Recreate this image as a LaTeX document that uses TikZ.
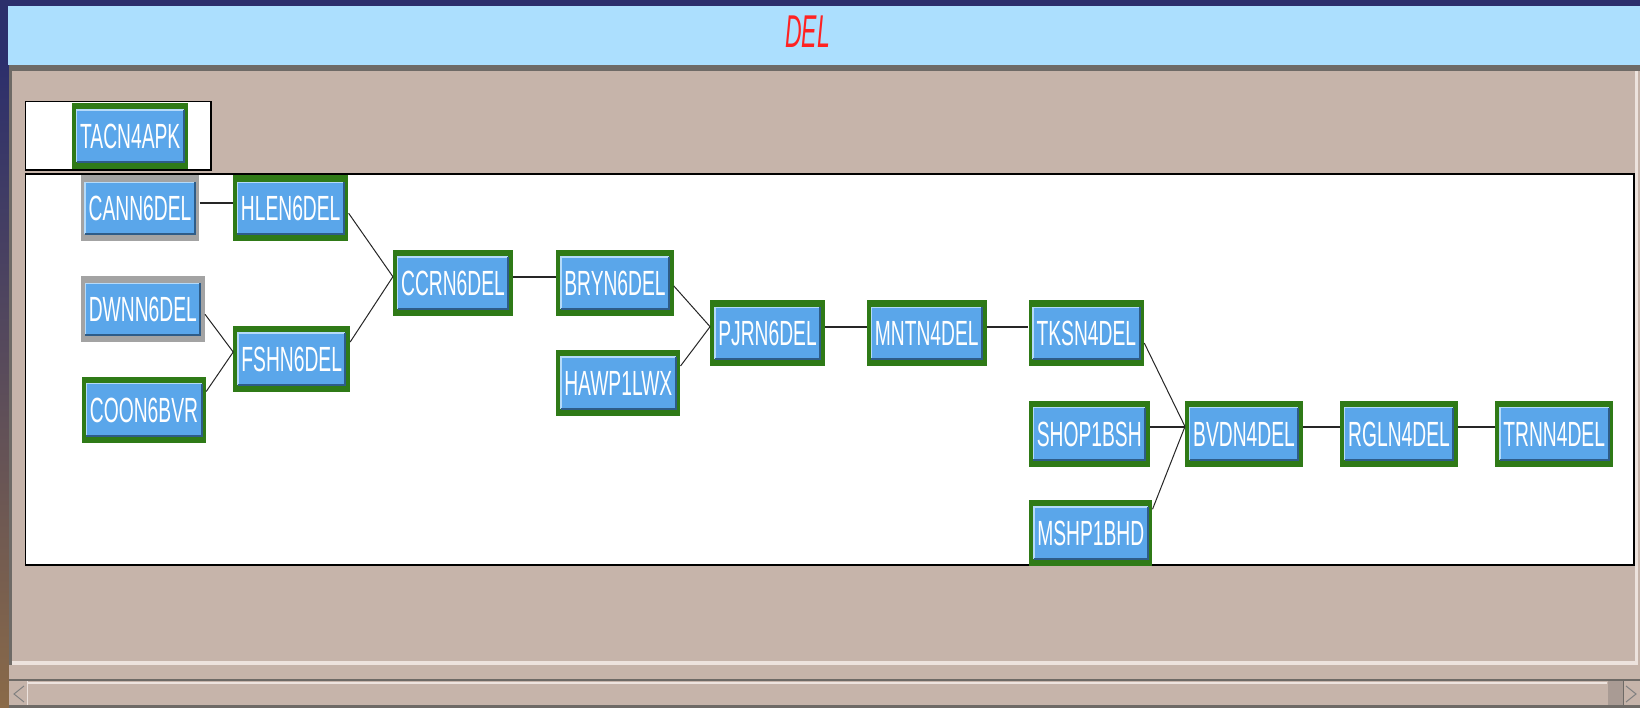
\documentclass[tikz,border=0pt]{standalone}
\usepackage{fontspec}
\setmainfont{Liberation Sans}
\usetikzlibrary{positioning}

\definecolor{navy}{HTML}{2C2F6C}
\definecolor{desk}{HTML}{8A6A48}
\definecolor{titlebar}{HTML}{ACDFFE}
\definecolor{panel}{HTML}{C6B4AA}
\definecolor{panelrim}{HTML}{6E6A66}
\definecolor{panellight}{HTML}{EDE3DE}
\definecolor{thumb}{HTML}{A99B94}
\definecolor{okgreen}{HTML}{2F7A17}
\definecolor{offgray}{HTML}{A3A3A3}
\definecolor{btnblue}{HTML}{5AA6EA}
\definecolor{btnlight}{HTML}{B4DAFA}
\definecolor{btndark}{HTML}{2E5C88}
\definecolor{deltitle}{HTML}{FF2222}

\newcommand{\sta}[1]{\scalebox{0.55}[1]{#1}}

\tikzset{
  site/.style={rectangle, fill=okgreen, text=white, minimum height=66pt,
    inner xsep=8pt, inner ysep=0pt, text height=25pt, text depth=0pt,
    font=\fontsize{35}{35}\selectfont,
    path picture={
      \coordinate (pa) at ([shift={(4.5pt,-7pt)}]path picture bounding box.north west);
      \coordinate (pb) at ([shift={(-4.5pt,7pt)}]path picture bounding box.south east);
      \fill[btnblue] (pa) rectangle (pb);
      \draw[btnlight, line width=1.5pt] (pa |- pb) -- (pa) -- (pb |- pa);
      \draw[btndark, line width=2pt] (pa |- pb) -- (pb) -- (pb |- pa);
    }},
  site off/.style={site, fill=offgray},
  link/.style={draw=black!85, line width=2pt},
  slant/.style={draw=black!85, line width=1pt},
  pane/.style={fill=white, draw=black, line width=1.5pt}
}

\begin{document}
\begin{tikzpicture}[x=1pt, y=-1pt]
  \useasboundingbox (0,0) rectangle (1640,708);
  % window frame
  \fill[navy] (0,0) rectangle (1640,708);
  \shade[top color=navy, bottom color=desk] (0,60) rectangle (9,708);
  \fill[titlebar] (8,6) rectangle (1640,65);
  \fill[panelrim] (9,65) rectangle (1640,71);
  \fill[panel] (9,71) rectangle (1640,708);
  \fill[panelrim] (9,65) rectangle (12,665);
  \fill[panellight] (12,661) rectangle (1638,665);
  \fill[panellight] (1635,71) rectangle (1638,665);
  \node[font=\fontsize{46}{46}\selectfont\itshape, text=deltitle, inner sep=0pt]
    (title) at (807.7,31.7) {\scalebox{0.5}[1]{DEL}};
  % scroll bar
  \fill[panelrim] (9,679) rectangle (1640,681);
  \fill[panellight] (27,682) rectangle (1607,684);
  \fill[panelrim] (9,705) rectangle (1640,708);
  \fill[thumb] (1608,681) rectangle (1623,705);
  \draw[panellight, line width=1pt] (27,681) -- (27,705);
  \draw[panelrim, line width=1pt] (1623,681) -- (1623,705);
  \draw[gray, line width=1pt] (24,686) -- (14,694) -- (24,702);
  \draw[gray, line width=1pt] (1626,686) -- (1636,694) -- (1626,702);
  % panes
  \draw[pane] (25.7,101.7) rectangle (211,170);
  \draw[pane] (25.7,174) rectangle (1634,565);

  \node[site] (s_tacn) at (130.2,135.8) {\sta{TACN4APK}};

  \node[site off] (s_cann) at (140,208.3) {\sta{CANN6DEL}};
  \node[site] (s_hlen) at (290.7,208.3) {\sta{HLEN6DEL}};
  \node[site off] (s_dwnn) at (142.8,309.3) {\sta{DWNN6DEL}};
  \node[site] (s_fshn) at (291.7,359) {\sta{FSHN6DEL}};
  \node[site] (s_coon) at (144,409.5) {\sta{COON6BVR}};
  \node[site] (s_ccrn) at (453,283) {\sta{CCRN6DEL}};
  \node[site] (s_bryn) at (615,283) {\sta{BRYN6DEL}};
  \node[site] (s_hawp) at (618.3,383) {\sta{HAWP1LWX}};
  \node[site] (s_pjrn) at (767.5,333.3) {\sta{PJRN6DEL}};
  \node[site] (s_mntn) at (926.7,333.3) {\sta{MNTN4DEL}};
  \node[site] (s_tksn) at (1086.3,333.3) {\sta{TKSN4DEL}};
  \node[site] (s_shop) at (1089.3,433.5) {\sta{SHOP1BSH}};
  \node[site] (s_mshp) at (1090.8,533) {\sta{MSHP1BHD}};
  \node[site] (s_bvdn) at (1244,433.5) {\sta{BVDN4DEL}};
  \node[site] (s_rgln) at (1399,433.5) {\sta{RGLN4DEL}};
  \node[site] (s_trnn) at (1554.2,433.5) {\sta{TRNN4DEL}};

  \path[link]
    ([yshift=5.6pt]s_cann.east) edge ([yshift=5.6pt]s_hlen.west)
    ([yshift=6.3pt]s_ccrn.east) edge ([yshift=6.3pt]s_bryn.west)
    ([yshift=6.6pt]s_pjrn.east) edge ([yshift=6.6pt]s_mntn.west)
    ([yshift=6.6pt]s_mntn.east) edge ([yshift=6.6pt]s_tksn.west)
    ([yshift=6.6pt]s_shop.east) edge ([yshift=6.6pt]s_bvdn.west)
    ([yshift=6.6pt]s_bvdn.east) edge ([yshift=6.6pt]s_rgln.west)
    ([yshift=6.6pt]s_rgln.east) edge ([yshift=6.6pt]s_trnn.west);
  \path[slant]
    ([yshift=-5pt]s_hlen.east) edge ([yshift=6.3pt]s_ccrn.west)
    ([yshift=17pt]s_fshn.east) edge ([yshift=6.3pt]s_ccrn.west)
    ([yshift=-5pt]s_dwnn.east) edge ([yshift=7pt]s_fshn.west)
    ([yshift=18pt]s_coon.east) edge ([yshift=7pt]s_fshn.west)
    ([yshift=-3pt]s_bryn.east) edge ([yshift=6.6pt]s_pjrn.west)
    ([yshift=17pt]s_hawp.east) edge ([yshift=6.6pt]s_pjrn.west)
    ([yshift=-9.7pt]s_tksn.east) edge ([yshift=7pt]s_bvdn.west)
    ([yshift=23.7pt]s_mshp.east) edge ([yshift=7pt]s_bvdn.west);
\end{tikzpicture}
\end{document}
